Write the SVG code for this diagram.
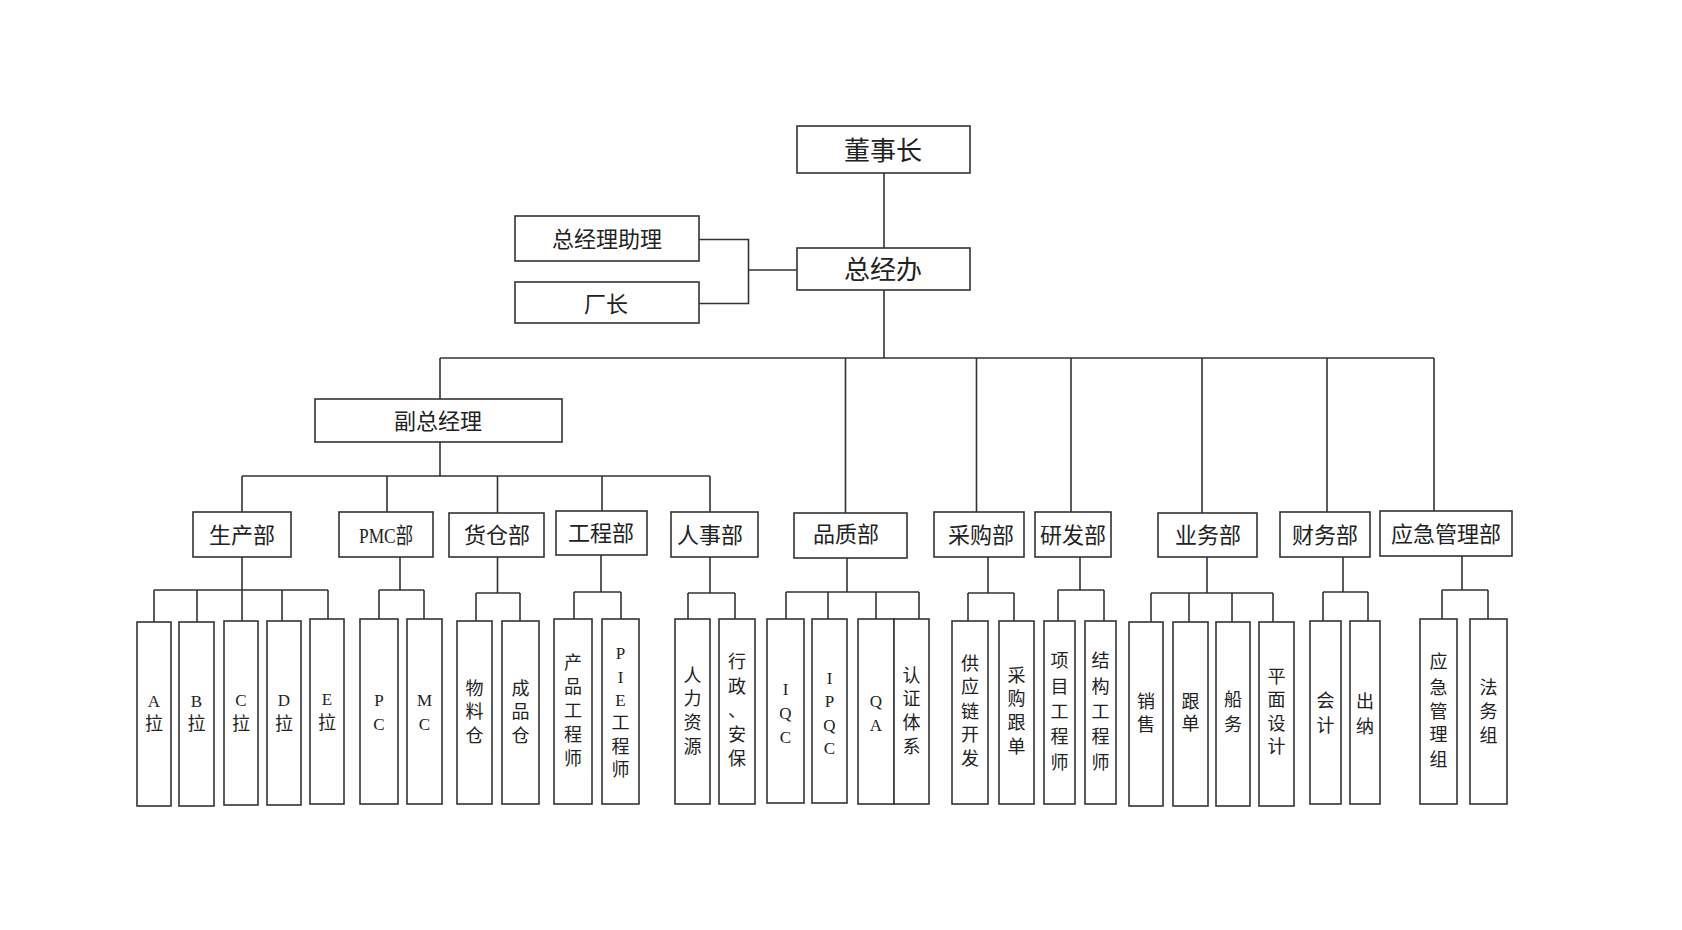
<svg xmlns="http://www.w3.org/2000/svg" width="1682" height="930" viewBox="0 0 1682 930">
<style>
.box{fill:#fff;stroke:#333;stroke-width:1.6}
.ln{fill:none;stroke:#333;stroke-width:1.6}
text{font-family:"Liberation Serif","Noto Sans CJK SC",serif;fill:#222;text-anchor:middle;dominant-baseline:central}
.t1{font-size:26px}
.t2{font-size:22px}
.v{font-size:18px}
.l{font-size:17px}
</style>
<rect width="1682" height="930" fill="#fff"/>
<g id="connectors" class="ln">
<path d="M884 173V248"/>
<path d="M699 239.5H748.5V303.5H699"/>
<path d="M748.5 270H797"/>
<path d="M884 290V358"/>
<path d="M440 358H1434"/>
<path d="M440 358V399M845.5 358V513M976.5 358V512M1071 358V512M1202 358V513M1327 358V512M1434 358V511"/>
<path d="M440 442V476M242 476H710"/>
<path d="M242 476V512M387 476V512M497.5 476V513M602 476V511M710 476V512"/>
<path d="M242 557V590M154 590H328M154 590V622M197 590V622M242 590V621M282 590V621M328 590V619"/>
<path d="M400 557V590M379 590H424M379 590V619M424 590V619"/>
<path d="M497.5 557V593M476 593H520M476 593V621M520 593V621"/>
<path d="M601 555V592M574 592H621M574 592V619M621 592V619"/>
<path d="M710 557V593M688 593H735M688 593V619M735 593V619"/>
<path d="M847 558V592M786 592H919M786 592V619M828 592V619M876 592V619M919 592V619"/>
<path d="M988 557V593M968 593H1014M968 593V621M1014 593V621"/>
<path d="M1080 557V590M1058 590H1104M1058 590V621M1104 590V621"/>
<path d="M1207 557V593M1151 593H1273M1151 593V622M1189 593V622M1232 593V622M1273 593V622"/>
<path d="M1343 557V592M1323 592H1368M1323 592V621M1368 592V621"/>
<path d="M1462 556V590M1442 590H1488M1442 590V619M1488 590V619"/>
</g>
<g id="n-dongshizhang"><rect class="box" x="797" y="126" width="173" height="47"/><text class="t1" x="883" y="151">董事长</text></g>
<g id="n-zongjingban"><rect class="box" x="797" y="248" width="173" height="42"/><text class="t1" x="883" y="270">总经办</text></g>
<g id="n-zjlzl"><rect class="box" x="515" y="216" width="184" height="45"/><text class="t2" x="607" y="239">总经理助理</text></g>
<g id="n-changzhang"><rect class="box" x="515" y="282" width="184" height="41"/><text class="t2" x="606" y="304">厂长</text></g>
<g id="n-fuzongjingli"><rect class="box" x="315" y="399" width="247" height="43"/><text class="t2" x="438" y="421">副总经理</text></g>
<g id="d-shengchan"><rect class="box" x="193" y="512" width="98" height="45"/><text class="t2" x="242" y="535">生产部</text></g>
<g id="d-pmc"><rect class="box" x="339" y="512" width="94" height="45"/><text class="t2" x="386" y="535" textLength="54" lengthAdjust="spacingAndGlyphs">PMC部</text></g>
<g id="d-huocang"><rect class="box" x="449" y="513" width="95" height="44"/><text class="t2" x="497" y="535">货仓部</text></g>
<g id="d-gongcheng"><rect class="box" x="556" y="511" width="91" height="44"/><text class="t2" x="601" y="533">工程部</text></g>
<g id="d-renshi"><rect class="box" x="671" y="512" width="87" height="45"/><text class="t2" x="710" y="535">人事部</text></g>
<g id="d-pinzhi"><rect class="box" x="794" y="513" width="113" height="45"/><text class="t2" x="846" y="534">品质部</text></g>
<g id="d-caigou"><rect class="box" x="934" y="512" width="90" height="45"/><text class="t2" x="981" y="535">采购部</text></g>
<g id="d-yanfa"><rect class="box" x="1035" y="512" width="76" height="45"/><text class="t2" x="1073" y="535">研发部</text></g>
<g id="d-yewu"><rect class="box" x="1158" y="513" width="99" height="44"/><text class="t2" x="1208" y="535">业务部</text></g>
<g id="d-caiwu"><rect class="box" x="1280" y="512" width="90" height="45"/><text class="t2" x="1325" y="535">财务部</text></g>
<g id="d-yingji"><rect class="box" x="1380" y="511" width="132" height="45"/><text class="t2" x="1446" y="534">应急管理部</text></g>
<g id="c-a"><rect class="box" x="137" y="622" width="34" height="184"/><text class="v"><tspan class="l" x="154" y="701">A</tspan><tspan x="154" y="724">拉</tspan></text></g>
<g id="c-b"><rect class="box" x="179" y="622" width="35" height="184"/><text class="v"><tspan class="l" x="196.5" y="701">B</tspan><tspan x="196.5" y="724">拉</tspan></text></g>
<g id="c-c"><rect class="box" x="224" y="621" width="34" height="184"/><text class="v"><tspan class="l" x="241" y="700">C</tspan><tspan x="241" y="723.5">拉</tspan></text></g>
<g id="c-d"><rect class="box" x="267" y="621" width="34" height="184"/><text class="v"><tspan class="l" x="284" y="700">D</tspan><tspan x="284" y="723.5">拉</tspan></text></g>
<g id="c-e"><rect class="box" x="310" y="619" width="34" height="185"/><text class="v"><tspan class="l" x="327" y="699">E</tspan><tspan x="327" y="722.5">拉</tspan></text></g>
<g id="c-pc"><rect class="box" x="360" y="619" width="38" height="185"/><text class="v"><tspan class="l" x="379" y="700">P</tspan><tspan class="l" x="379" y="724">C</tspan></text></g>
<g id="c-mc"><rect class="box" x="407" y="619" width="35" height="185"/><text class="v"><tspan class="l" x="424.5" y="700">M</tspan><tspan class="l" x="424.5" y="724">C</tspan></text></g>
<g id="c-wuliaocang"><rect class="box" x="457" y="621" width="35" height="183"/><text class="v"><tspan x="474.5" y="688.5">物</tspan><tspan x="474.5" y="712">料</tspan><tspan x="474.5" y="735.5">仓</tspan></text></g>
<g id="c-chengpincang"><rect class="box" x="502" y="621" width="37" height="183"/><text class="v"><tspan x="520.5" y="688.5">成</tspan><tspan x="520.5" y="712">品</tspan><tspan x="520.5" y="735.5">仓</tspan></text></g>
<g id="c-chanpingcs"><rect class="box" x="554" y="619" width="38" height="185"/><text class="v"><tspan x="573" y="663">产</tspan><tspan x="573" y="687">品</tspan><tspan x="573" y="711">工</tspan><tspan x="573" y="735">程</tspan><tspan x="573" y="759">师</tspan></text></g>
<g id="c-piegcs"><rect class="box" x="602" y="619" width="37" height="185"/><text class="v"><tspan class="l" x="620.5" y="653">P</tspan><tspan class="l" x="620.5" y="676.5">I</tspan><tspan class="l" x="620.5" y="700">E</tspan><tspan x="620.5" y="723">工</tspan><tspan x="620.5" y="747">程</tspan><tspan x="620.5" y="770">师</tspan></text></g>
<g id="c-renliziyuan"><rect class="box" x="675" y="619" width="35" height="185"/><text class="v"><tspan x="692.5" y="675.5">人</tspan><tspan x="692.5" y="699">力</tspan><tspan x="692.5" y="722.5">资</tspan><tspan x="692.5" y="746.5">源</tspan></text></g>
<g id="c-xingzheng"><rect class="box" x="719" y="619" width="36" height="185"/><text class="v"><tspan x="737" y="662">行</tspan><tspan x="737" y="686.5">政</tspan><tspan x="737" y="711">、</tspan><tspan x="737" y="735">安</tspan><tspan x="737" y="758.5">保</tspan></text></g>
<g id="c-iqc"><rect class="box" x="767" y="619" width="37" height="184"/><text class="v"><tspan class="l" x="785.5" y="689">I</tspan><tspan class="l" x="785.5" y="713">Q</tspan><tspan class="l" x="785.5" y="736.5">C</tspan></text></g>
<g id="c-ipqc"><rect class="box" x="812" y="619" width="35" height="184"/><text class="v"><tspan class="l" x="829.5" y="678">I</tspan><tspan class="l" x="829.5" y="701">P</tspan><tspan class="l" x="829.5" y="725">Q</tspan><tspan class="l" x="829.5" y="748">C</tspan></text></g>
<g id="c-qa"><rect class="box" x="858" y="619" width="36" height="185"/><text class="v"><tspan class="l" x="876" y="701">Q</tspan><tspan class="l" x="876" y="725">A</tspan></text></g>
<g id="c-renzheng"><rect class="box" x="894" y="619" width="35" height="185"/><text class="v"><tspan x="911.5" y="675.5">认</tspan><tspan x="911.5" y="699">证</tspan><tspan x="911.5" y="722.5">体</tspan><tspan x="911.5" y="746.5">系</tspan></text></g>
<g id="c-gongyinglian"><rect class="box" x="952" y="621" width="36" height="183"/><text class="v"><tspan x="970" y="663.5">供</tspan><tspan x="970" y="687">应</tspan><tspan x="970" y="711.5">链</tspan><tspan x="970" y="735">开</tspan><tspan x="970" y="758.5">发</tspan></text></g>
<g id="c-caigougendan"><rect class="box" x="999" y="621" width="35" height="183"/><text class="v"><tspan x="1016.5" y="675.5">采</tspan><tspan x="1016.5" y="699">购</tspan><tspan x="1016.5" y="722.5">跟</tspan><tspan x="1016.5" y="746.5">单</tspan></text></g>
<g id="c-xiangmu"><rect class="box" x="1044" y="621" width="31" height="183"/><text class="v"><tspan x="1059.5" y="661">项</tspan><tspan x="1059.5" y="687">目</tspan><tspan x="1059.5" y="712">工</tspan><tspan x="1059.5" y="737">程</tspan><tspan x="1059.5" y="763">师</tspan></text></g>
<g id="c-jiegou"><rect class="box" x="1085" y="621" width="31" height="183"/><text class="v"><tspan x="1100.5" y="661">结</tspan><tspan x="1100.5" y="687">构</tspan><tspan x="1100.5" y="712">工</tspan><tspan x="1100.5" y="737">程</tspan><tspan x="1100.5" y="763">师</tspan></text></g>
<g id="c-xiaoshou"><rect class="box" x="1129" y="622" width="34" height="184"/><text class="v"><tspan x="1146" y="701.5">销</tspan><tspan x="1146" y="725">售</tspan></text></g>
<g id="c-gendan"><rect class="box" x="1173" y="622" width="35" height="184"/><text class="v"><tspan x="1190.5" y="701.5">跟</tspan><tspan x="1190.5" y="724">单</tspan></text></g>
<g id="c-chuanwu"><rect class="box" x="1216" y="622" width="34" height="184"/><text class="v"><tspan x="1233" y="700">船</tspan><tspan x="1233" y="725">务</tspan></text></g>
<g id="c-pingmian"><rect class="box" x="1259" y="622" width="35" height="184"/><text class="v"><tspan x="1276.5" y="676.5">平</tspan><tspan x="1276.5" y="700">面</tspan><tspan x="1276.5" y="724">设</tspan><tspan x="1276.5" y="747">计</tspan></text></g>
<g id="c-kuaiji"><rect class="box" x="1310" y="621" width="31" height="183"/><text class="v"><tspan x="1325.5" y="700.5">会</tspan><tspan x="1325.5" y="726">计</tspan></text></g>
<g id="c-chuna"><rect class="box" x="1350" y="621" width="30" height="183"/><text class="v"><tspan x="1365" y="701.5">出</tspan><tspan x="1365" y="726.5">纳</tspan></text></g>
<g id="c-yingjizu"><rect class="box" x="1420" y="619" width="37" height="185"/><text class="v"><tspan x="1438.5" y="662">应</tspan><tspan x="1438.5" y="687.5">急</tspan><tspan x="1438.5" y="711.5">管</tspan><tspan x="1438.5" y="735">理</tspan><tspan x="1438.5" y="759.5">组</tspan></text></g>
<g id="c-fawuzu"><rect class="box" x="1470" y="619" width="37" height="185"/><text class="v"><tspan x="1488.5" y="688">法</tspan><tspan x="1488.5" y="711.5">务</tspan><tspan x="1488.5" y="736">组</tspan></text></g>
</svg>
